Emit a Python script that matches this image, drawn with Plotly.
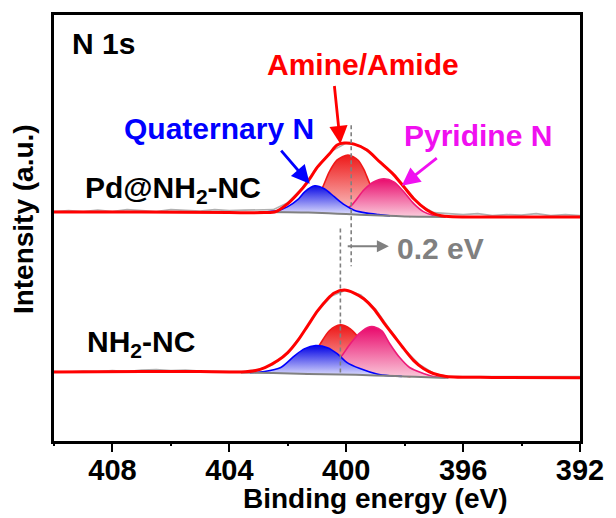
import plotly.graph_objects as go

# ---------------- data (binding energy in eV, intensity in a.u.) ----------------
energy_raw = [410.0, 409.5, 409.0, 408.5, 408.0, 407.5, 407.0, 406.5, 406.0, 405.5,
              405.0, 404.5, 404.0, 403.5, 403.0, 402.5, 402.0, 401.5, 401.0, 400.5,
              400.0, 399.5, 399.0, 398.5, 398.0, 397.5, 397.0, 396.5, 396.0, 395.5,
              395.0, 394.5, 394.0, 393.5, 393.0, 392.5, 392.0]
pd_raw = [231, 232, 231, 232.5, 231, 233, 232, 231, 233, 232,
          231.5, 233, 232, 232.5, 233, 233, 240, 255, 276, 292,
          300, 297, 285, 272, 256, 238, 230, 229, 228, 229,
          227, 228, 227.5, 229, 227, 228, 227]
nh2_raw = [70, 69.5, 70.5, 70, 71, 70, 71.5, 72, 71, 71.5,
           70.5, 70, 70, 70, 72, 77, 89, 108, 130, 146,
           152, 147, 133, 112, 92, 77, 68, 65, 65, 64.5,
           65, 64.5, 65, 64.5, 65, 64.5, 65]

# Pd@NH2-NC fit
pd_env_E = [410, 407, 404, 402.8, 402.41, 402.0, 401.66, 401.32, 400.98, 400.58, 400.31,
            400.07, 399.73, 399.29, 398.85, 398.37, 398.03, 397.69, 397.25, 396.92, 396.5, 395, 392]
pd_env_I = [230.5, 230.5, 230, 230, 231, 239, 249, 261, 276, 289, 298,
            300, 299, 293, 281, 268, 256, 244, 233, 228, 226, 225.5, 225.5]
pd_base_E = [403.0, 402.0, 401.3, 400.6, 400.0, 399.3, 398.6, 398.0, 397.3, 396.6]
pd_base_I = [230.5, 230.3, 230.0, 229.3, 228.5, 227.5, 226.8, 226.2, 225.8, 225.5]
pd_quat_E = [402.9, 402.34, 402.0, 401.66, 401.42, 401.08, 400.75, 400.41, 400.07, 399.73, 399.29, 398.9, 398.5]
pd_quat_I = [230.4, 232, 236, 243, 251, 257, 254, 246, 238, 232.5, 229.5, 228, 226.7]
pd_amine_E = [402.0, 401.4, 401.0, 400.8, 400.58, 400.31, 399.94, 399.6, 399.39, 399.19, 398.9, 398.6, 398.2, 397.8]
pd_amine_I = [230.3, 234, 246, 256, 271, 283, 288, 283, 273, 259, 244, 234, 228, 226.1]
pd_pyr_E = [400.8, 400.4, 400.1, 399.83, 399.39, 399.05, 398.71, 398.37, 398.03, 397.69, 397.36, 397.02, 396.6]
pd_pyr_I = [229.4, 230.5, 232.5, 237, 253, 261, 264, 261, 251, 239, 231, 227.2, 225.6]

# NH2-NC fit
nh2_env_E = [410, 407, 405, 404.0, 403.59, 403.1, 402.78, 402.34, 402.0, 401.66, 401.32, 400.98, 400.64,
             400.41, 400.07, 399.73, 399.39, 399.05, 398.71, 398.37, 398.03, 397.69, 397.36, 397.02,
             396.58, 395, 392]
nh2_env_I = [69.5, 70, 70, 69.5, 69.5, 71, 74, 81, 89, 101, 116, 131, 143,
             149, 152, 149, 143, 133, 119, 106, 93, 81, 73, 68,
             65, 64, 63.7]
nh2_base_E = [403.6, 402.5, 401.3, 400.2, 399.0, 398.0, 397.0, 396.5]
nh2_base_I = [69.0, 68.5, 67.5, 67.0, 66.0, 65.0, 64.0, 63.7]
nh2_quat_E = [403.3, 402.8, 402.24, 401.76, 401.42, 401.05, 400.64, 400.31, 399.97, 399.53, 398.95, 398.51, 398.1]
nh2_quat_I = [68.9, 70, 74, 86, 93, 96, 94, 88, 79, 73, 67.5, 65.7, 65.1]
nh2_amine_E = [402.2, 401.7, 401.3, 400.95, 400.58, 400.2, 399.86, 399.63, 399.3, 399.0, 398.6, 398.2, 397.8]
nh2_amine_I = [68.3, 72, 81, 95, 111, 117, 113, 106, 93, 81, 71, 66.5, 64.8]
nh2_pyr_E = [401.4, 401.0, 400.6, 400.2, 399.86, 399.53, 399.19, 399.05, 398.78, 398.51, 398.17, 397.83, 397.36, 397.02, 396.6]
nh2_pyr_I = [67.5, 68.5, 72.5, 84, 98, 109, 115, 115, 111, 98, 84, 74, 68, 65, 63.8]

# amine peak positions marked by dashed lines (E, I_top, I_bottom)
shift_pd = [399.83, 318, 176]
shift_nh2 = [400.2, 214, 66]

tick_vals = [408, 404, 400, 396, 392]
minor_vals = [410, 406, 402, 398, 394]
x_range = [410, 392]
y_range = [0, 429]

FONT = "Arial, Liberation Sans, sans-serif"
RED = "#ff0000"
BLUE = "#0000ff"
PINK = "#ee1a78"
MAG = "#f010f0"
GRAY = "#808080"

fig = go.Figure()


def fill_poly(Ec, Ic, Eb, Ib):
    lo, hi = min(Ec), max(Ec)
    inner = sorted([(e, i) for e, i in zip(Eb, Ib) if lo < e < hi])
    x = list(Ec) + [p[0] for p in inner] + [Ec[0]]
    y = list(Ic) + [p[1] for p in inner] + [Ic[0]]
    return x, y


def add_component(Ec, Ic, Eb, Ib, top, bottom, lcolor):
    x, y = fill_poly(Ec, Ic, Eb, Ib)
    fig.add_trace(go.Scatter(
        x=x, y=y, mode="lines", fill="toself",
        line=dict(width=0, shape="spline", smoothing=0.8, color=lcolor),
        fillgradient=dict(type="vertical", colorscale=[[0, bottom], [1, top]],
                          start=min(y), stop=max(y)),
        hoverinfo="skip", showlegend=False))
    fig.add_trace(go.Scatter(
        x=Ec, y=Ic, mode="lines",
        line=dict(width=1.6, shape="spline", smoothing=0.8, color=lcolor),
        hoverinfo="skip", showlegend=False))


for raw, env_E, env_I, base_E, base_I, am_E, am_I, py_E, py_I, qu_E, qu_I in [
    (pd_raw, pd_env_E, pd_env_I, pd_base_E, pd_base_I, pd_amine_E, pd_amine_I,
     pd_pyr_E, pd_pyr_I, pd_quat_E, pd_quat_I),
    (nh2_raw, nh2_env_E, nh2_env_I, nh2_base_E, nh2_base_I, nh2_amine_E, nh2_amine_I,
     nh2_pyr_E, nh2_pyr_I, nh2_quat_E, nh2_quat_I),
]:
    fig.add_trace(go.Scatter(x=energy_raw, y=raw, mode="lines",
                             line=dict(color="#b0b0b0", width=1.6),
                             hoverinfo="skip", showlegend=False))
    add_component(am_E, am_I, base_E, base_I, "#ee1c1c", "#fbd6d6", "#f01818")
    add_component(py_E, py_I, base_E, base_I, "#ea1070", "#fbd3e0", PINK)
    add_component(qu_E, qu_I, base_E, base_I, "#1414e6", "#f4f4ff", BLUE)
    fig.add_trace(go.Scatter(x=base_E, y=base_I, mode="lines",
                             line=dict(color=GRAY, width=2, shape="spline"),
                             hoverinfo="skip", showlegend=False))
    fig.add_trace(go.Scatter(x=env_E, y=env_I, mode="lines",
                             line=dict(color=RED, width=3, shape="spline", smoothing=0.8),
                             hoverinfo="skip", showlegend=False))

for s in (shift_pd, shift_nh2):
    fig.add_trace(go.Scatter(x=[s[0], s[0]], y=[s[1], s[2]], mode="lines",
                             line=dict(color=GRAY, width=1.6, dash="4px,3px"),
                             hoverinfo="skip", showlegend=False))

# invisible helper trace so that the overlaid minor-tick axis is drawn
fig.add_trace(go.Scatter(x=minor_vals, y=[y_range[0]] * len(minor_vals), xaxis="x2",
                         mode="markers", marker=dict(opacity=0, size=1),
                         hoverinfo="skip", showlegend=False))

annotations = []


def label(text, x, y, color="black", xanchor="center", size=30):
    annotations.append(dict(text=text, x=x, y=y, xref="x", yref="y", showarrow=False,
                            xanchor=xanchor, yanchor="middle",
                            font=dict(family=FONT, size=size, color=color)))


def arrow(x, y, ax, ay, color, width=2.8, size=1.3):
    annotations.append(dict(text="", x=x, y=y, ax=ax, ay=ay, xref="x", yref="y",
                            axref="x", ayref="y", showarrow=True, arrowhead=2,
                            arrowsize=size, arrowwidth=width, arrowcolor=color))


label("<b>N 1s</b>", 409.46, 400, xanchor="left")
label("<b>Amine/Amide</b>", 399.42, 379, color=RED)
label("<b>Quaternary N</b>", 404.37, 315, color=BLUE)
label("<b>Pyridine N</b>", 395.49, 308, color=MAG)
label("<b>Pd@NH<sub>2</sub>-NC</b>", 409.02, 253, xanchor="left")
label("<b>NH<sub>2</sub>-NC</b>", 408.95, 98, xanchor="left")
label("<b>0.2 eV</b>", 398.34, 194, color=GRAY, xanchor="left")

arrow(400.20, 299, 400.41, 359, RED)
arrow(401.25, 259, 402.27, 294, BLUE)
arrow(398.10, 257, 396.85, 286, MAG)
arrow(398.54, 196, 400.0, 196, GRAY, width=2, size=1.2)

# axis titles
annotations.append(dict(text="<b>Intensity (a.u.)</b>", x=-0.058, y=0.522, xref="paper",
                        yref="paper", showarrow=False, textangle=-90,
                        xanchor="center", yanchor="middle",
                        font=dict(family=FONT, size=28, color="black")))
annotations.append(dict(text="<b>Binding energy (eV)</b>", x=0.61, y=-0.135, xref="paper",
                        yref="paper", showarrow=False, xanchor="center", yanchor="middle",
                        font=dict(family=FONT, size=28, color="black")))

fig.update_layout(
    width=616, height=518,
    margin=dict(l=54, r=31, t=12, b=77),
    paper_bgcolor="white", plot_bgcolor="white",
    annotations=annotations,
    xaxis=dict(range=x_range, tickmode="array", tickvals=tick_vals,
               ticktext=[str(v) for v in tick_vals],
               ticks="outside", ticklen=8, tickwidth=2.2, tickcolor="black",
               ticklabelstandoff=-7,
               showline=True, linewidth=2.5, linecolor="black", mirror=True,
               showgrid=False, zeroline=False,
               tickfont=dict(family=FONT, size=29, color="black", weight="bold")),
    xaxis2=dict(range=x_range, overlaying="x", anchor="y", side="bottom",
                tickmode="array", tickvals=minor_vals, ticks="outside", ticklen=4,
                tickwidth=2.2, tickcolor="black", showticklabels=False,
                showline=False, showgrid=False, zeroline=False),
    yaxis=dict(range=y_range, showticklabels=False, ticks="",
               showline=True, linewidth=2.5, linecolor="black", mirror=True,
               showgrid=False, zeroline=False),
)

fig.write_html("out.html")
